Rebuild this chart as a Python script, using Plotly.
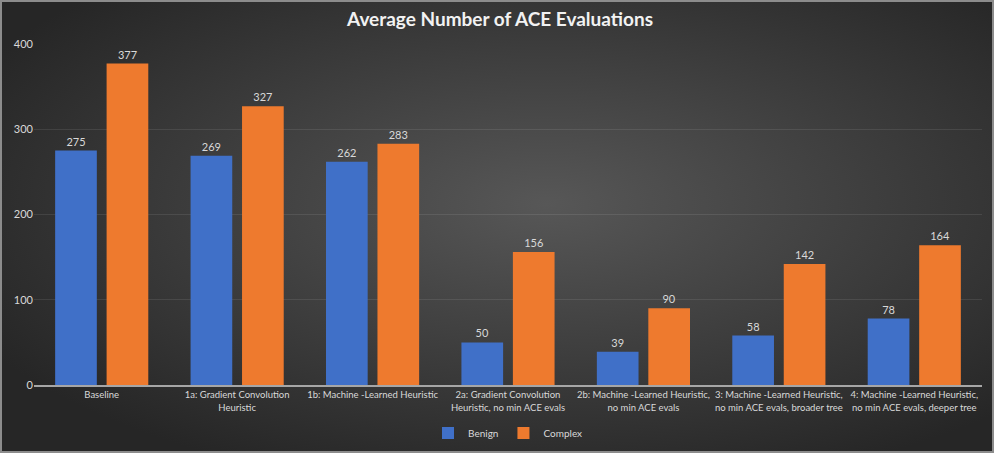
import base64
import plotly.graph_objects as go

categories = [
    "Baseline",
    "1a: Gradient Convolution<br>Heuristic",
    "1b: Machine -Learned Heuristic",
    "2a: Gradient Convolution<br>Heuristic, no min ACE evals",
    "2b: Machine -Learned Heuristic,<br>no min ACE evals",
    "3: Machine -Learned Heuristic,<br>no min ACE evals, broader tree",
    "4: Machine -Learned Heuristic,<br>no min ACE evals, deeper tree",
]
benign = [275, 269, 262, 50, 39, 58, 78]
complex_ = [377, 327, 283, 156, 90, 142, 164]
y_ticks = [0, 100, 200, 300, 400]

TEXT = "#d9d9d9"
FONT = "Lato"

# dark radial background like the office chart style
svg = (
    '<svg xmlns="http://www.w3.org/2000/svg" width="994" height="453">'
    '<defs><radialGradient id="g" cx="55%" cy="45%" r="65%">'
    '<stop offset="0" stop-color="#575757"/>'
    '<stop offset="1" stop-color="#262626"/>'
    '</radialGradient></defs>'
    '<rect x="1" y="1" width="992" height="451" fill="url(#g)" '
    'stroke="#8c8c8c" stroke-width="2"/></svg>'
)
bg_src = "data:image/svg+xml;base64," + base64.b64encode(svg.encode()).decode()

fig = go.Figure()
fig.add_trace(go.Bar(
    x=categories, y=benign, name="Benign",
    marker=dict(color="#4070c8", line=dict(width=0)),
    text=benign, textposition="outside",
    textfont=dict(color=TEXT, size=11, family=FONT),
    cliponaxis=False,
))
fig.add_trace(go.Bar(
    x=categories, y=complex_, name="Complex",
    marker=dict(color="#ee7a2e", line=dict(width=0)),
    text=complex_, textposition="outside",
    textfont=dict(color=TEXT, size=11, family=FONT),
    cliponaxis=False,
))

# plot area: x 34..982, y 44..385 in a 1000x453 page
pw, ph = 948, 341
fig.add_layout_image(
    source=bg_src, xref="paper", yref="paper",
    x=-34 / pw, y=1 + 44 / ph, sizex=994 / pw, sizey=453 / ph,
    xanchor="left", yanchor="top", sizing="stretch", layer="below",
)

fig.update_layout(
    width=1000, height=453,
    margin=dict(l=34, r=18, t=44, b=68, autoexpand=False),
    paper_bgcolor="white",
    plot_bgcolor="rgba(0,0,0,0)",
    font=dict(family=FONT, color=TEXT, size=11),
    title=dict(
        text="<b>Average Number of ACE Evaluations</b>",
        x=0.5, xanchor="center", y=1 - 19 / 453, yanchor="middle",
        font=dict(size=19, color="#f2f2f2", family=FONT),
    ),
    barmode="group", bargap=0.24, bargroupgap=0.19,
    showlegend=True,
    legend=dict(
        orientation="h", x=0.5, xanchor="center",
        yref="container", y=1 - 433 / 453, yanchor="middle", itemwidth=30,
        font=dict(size=10, color=TEXT, family=FONT),
        bgcolor="rgba(0,0,0,0)",
    ),
    xaxis=dict(
        showline=True, linecolor="#a6a6a6", linewidth=1.5,
        showgrid=False, ticks="", tickangle=0, automargin=False,
        tickfont=dict(size=9.5, color=TEXT),
    ),
    yaxis=dict(
        range=[0, 400], tickvals=y_ticks, automargin=False,
        showgrid=True, gridcolor="rgba(255,255,255,0.09)", gridwidth=1,
        zeroline=False, showline=False, ticks="",
        tickfont=dict(size=11, color=TEXT),
    ),
)

# page has a default 8px body margin; drop it so the chart sits at 0,0
page_fix = (
    "document.body.style.margin='0';"
    "document.body.style.overflow='hidden';"
    "document.documentElement.style.overflow='hidden';"
)
fig.write_html("out.html", post_script=page_fix,
               config={"displayModeBar": False})
